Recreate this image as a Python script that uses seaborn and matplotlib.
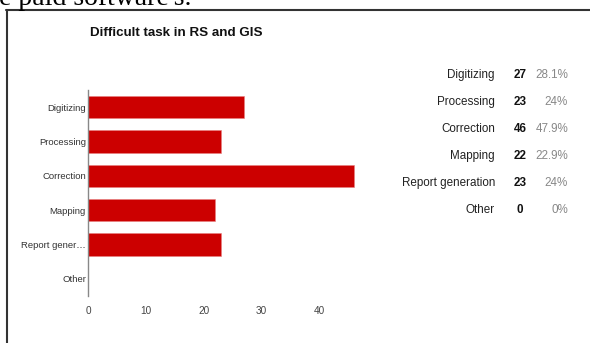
import matplotlib
matplotlib.use("Agg")
import matplotlib.pyplot as plt
from matplotlib.lines import Line2D
import seaborn as sns
import pandas as pd

# Survey answers: which task is hardest in RS and GIS
tasks = ["Digitizing", "Processing", "Correction", "Mapping", "Report generation", "Other"]
axis_labels = ["Digitizing", "Processing", "Correction", "Mapping", "Report gener\u2026", "Other"]
counts = [27, 23, 46, 22, 23, 0]
percents = ["28.1%", "24%", "47.9%", "22.9%", "24%", "0%"]
x_ticks = [0, 10, 20, 30, 40]

title = "Difficult task in RS and GIS"
page_text = "e paid software's."

BAR = "#cc0000"
SANS = ["Liberation Sans", "DejaVu Sans"]

sns.set_theme(style="white")
plt.rcParams["font.family"] = SANS

W, H = 590, 343
fig = plt.figure(figsize=(W / 100, H / 100), dpi=100)
fig.patch.set_facecolor("white")

def fx(px):
    return px / W

def fy(py):
    return 1 - py / H

# plot area
ax_left, ax_right, ax_top, ax_bottom = 88, 377, 90, 296
ax = fig.add_axes([fx(ax_left), fy(ax_bottom), fx(ax_right - ax_left), (ax_bottom - ax_top) / H])

df = pd.DataFrame({"task": tasks, "count": counts})
sns.barplot(data=df, x="count", y="task", orient="h", color=BAR, saturation=1,
            width=0.65, ax=ax)
for p in ax.patches:
    p.set_edgecolor("#e88080")
    p.set_linewidth(0.4)

ax.set_xlim(0, 50)
ax.set_xticks(x_ticks)
ax.set_xticklabels([str(t) for t in x_ticks], fontsize=7.2, color="#444444")
ax.set_yticks(range(len(tasks)))
ax.set_yticklabels(axis_labels, fontsize=6.8, color="#333333")
ax.set_xlabel("")
ax.set_ylabel("")
ax.tick_params(axis="both", length=0)
ax.tick_params(axis="x", pad=7)
ax.tick_params(axis="y", pad=1.5)
for side in ["top", "right", "bottom"]:
    ax.spines[side].set_visible(False)
ax.spines["left"].set_color("#888888")
ax.spines["left"].set_linewidth(1.0)
ax.set_facecolor("white")

# title
fig.text(fx(90), fy(33), title, fontsize=9.6, fontweight="bold", color="#111111",
         ha="left", va="center", family=SANS)

# summary table on the right
row_y = [75, 102, 129, 156, 183, 210]
for y, name, c, pct in zip(row_y, tasks, counts, percents):
    fig.text(fx(495), fy(y), name, fontsize=8.4, color="#222222", ha="right",
             va="center", family=SANS)
    fig.text(fx(520), fy(y), str(c), fontsize=8.4, fontweight="bold", color="#111111",
             ha="center", va="center", family=SANS)
    fig.text(fx(568), fy(y), pct, fontsize=8.4, color="#888888", ha="right",
             va="center", family=SANS)

# frame of the figure box and the document line above it
fig.add_artist(Line2D([fx(6), fx(590)], [fy(10), fy(10)], color="#333333", lw=1.5))
fig.add_artist(Line2D([fx(7), fx(7)], [fy(10), fy(343)], color="#333333", lw=1.5))
fig.text(fx(-1), fy(5), page_text, fontsize=20, color="#000000", ha="left",
         va="baseline", family=["Liberation Serif", "DejaVu Serif"])

fig.savefig("out.png", dpi=100, facecolor="white")
